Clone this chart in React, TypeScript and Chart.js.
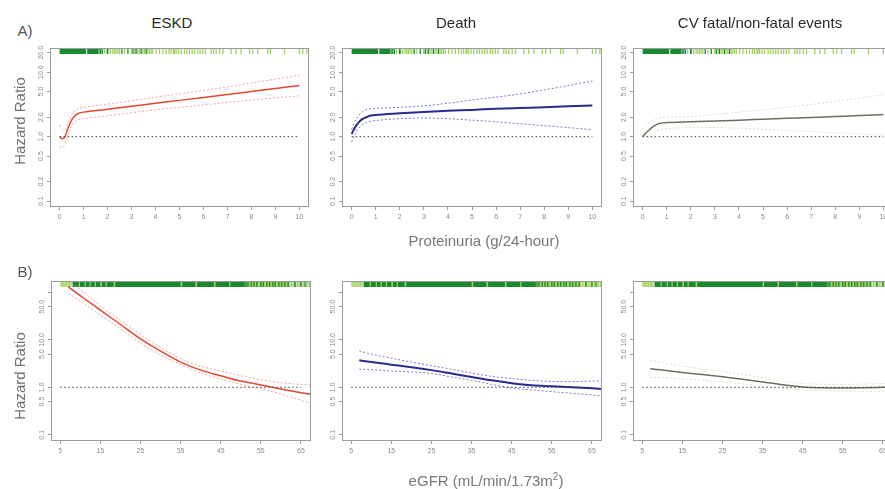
import React, { useEffect, useRef } from 'react';
import { Chart, registerables } from 'chart.js';

Chart.register(...registerables);

// ---------- Data ----------
// Panel A: proteinuria (g/24-hour)
const protX = [0, 0.1, 0.2, 0.3, 0.4, 0.5, 0.6, 0.7, 0.8, 1, 2, 3, 4, 5, 6, 7, 8, 9, 10];
const eskdProtHR = [1.0, 0.93, 0.96, 1.2, 1.5, 1.8, 2.05, 2.2, 2.3, 2.4, 2.65, 2.95, 3.3, 3.65, 4.05, 4.5, 5.0, 5.6, 6.2];
const eskdProtUp = [1.5, 1.3, 1.25, 1.45, 1.8, 2.15, 2.45, 2.65, 2.75, 2.85, 3.2, 3.6, 4.1, 4.6, 5.2, 5.9, 6.8, 7.8, 9.0];
const eskdProtLo = [0.7, 0.68, 0.74, 0.95, 1.2, 1.45, 1.65, 1.78, 1.85, 1.9, 2.1, 2.35, 2.6, 2.85, 3.1, 3.4, 3.7, 4.0, 4.3];
const deathProtHR = [1.1, 1.3, 1.5, 1.68, 1.82, 1.92, 2.0, 2.07, 2.12, 2.17, 2.3, 2.42, 2.52, 2.6, 2.7, 2.78, 2.86, 2.95, 3.05];
const deathProtUp = [1.3, 1.6, 1.9, 2.15, 2.35, 2.5, 2.6, 2.68, 2.72, 2.75, 2.85, 3.0, 3.3, 3.7, 4.1, 4.6, 5.3, 6.2, 7.3];
const deathProtLo = [0.82, 1.02, 1.2, 1.35, 1.47, 1.57, 1.64, 1.7, 1.74, 1.78, 1.9, 1.94, 1.9, 1.8, 1.7, 1.58, 1.48, 1.38, 1.28];
const cvProtHR = [1.0, 1.1, 1.2, 1.3, 1.4, 1.48, 1.55, 1.6, 1.62, 1.65, 1.7, 1.75, 1.8, 1.86, 1.92, 1.98, 2.05, 2.12, 2.2];
const cvProtUp = [1.3, 1.42, 1.55, 1.65, 1.75, 1.83, 1.9, 1.95, 1.98, 2.0, 2.05, 2.2, 2.4, 2.6, 2.85, 3.15, 3.5, 3.95, 4.5];
const cvProtLo = [0.76, 0.85, 0.95, 1.03, 1.1, 1.17, 1.22, 1.27, 1.3, 1.33, 1.38, 1.38, 1.35, 1.3, 1.25, 1.2, 1.15, 1.1, 1.05];
const protRef = [0, 10];

const protTicks = [0, 1, 2, 3, 4, 5, 6, 7, 8, 9, 10];
const protTickLabels = ['0', '1', '2', '3', '4', '5', '6', '7', '8', '9', '10'];
const protHrTicks = [0.1, 0.2, 0.5, 1, 2, 5, 10, 20];
const protHrLabels = ['0.1', '0.2', '0.5', '1.0', '2.0', '5.0', '10.0', '20.0'];

// rug (observed proteinuria values)
const rugProtBands: number[][] = [[0, 1.1], [1.15, 1.6]];
const rugProtDark = [1.64, 1.71, 1.78, 1.99, 2.01, 2.6, 2.85, 3.06, 3.19, 3.4, 3.61];
const rugProtLight = [1.87, 2.12, 2.22, 2.29, 2.36, 2.43, 2.5, 2.71, 2.99, 3.13, 3.26, 3.33, 3.47, 3.54, 3.68, 3.75, 3.82, 3.89, 4.03, 4.17, 4.31, 4.44, 4.56, 4.65, 4.75, 4.79, 4.86, 4.96, 5.07, 5.21, 5.31, 5.42, 5.53, 5.63, 5.76, 5.86, 5.97, 6.08, 6.32, 6.42, 6.53, 6.67, 6.81, 7.15, 7.36, 7.57, 7.92, 8.06, 8.26, 8.68, 8.79, 9.38, 10.0, 10.14, 10.31];

// Panel B: eGFR (mL/min/1.73m2)
const egfrX = [7, 10, 15, 20, 25, 30, 35, 40, 45, 50, 55, 60, 65, 67.5];
const eskdEgfrHR = [130, 85, 42, 21, 10.5, 5.8, 3.4, 2.3, 1.75, 1.35, 1.12, 0.92, 0.77, 0.71];
const eskdEgfrUp = [175, 115, 52, 26, 13, 7, 4.0, 2.8, 2.2, 1.75, 1.45, 1.25, 1.15, 1.12];
const eskdEgfrLo = [95, 65, 33, 17, 8.5, 4.8, 3.0, 2.0, 1.5, 1.15, 0.93, 0.72, 0.53, 0.46];
const deathEgfrHR = [3.7, 3.4, 3.0, 2.65, 2.3, 1.95, 1.65, 1.4, 1.22, 1.1, 1.05, 1.0, 0.95, 0.92];
const deathEgfrUp = [5.8, 5.0, 4.1, 3.4, 2.85, 2.4, 2.0, 1.7, 1.52, 1.4, 1.33, 1.32, 1.35, 1.36];
const deathEgfrLo = [2.4, 2.35, 2.2, 2.1, 1.95, 1.65, 1.4, 1.15, 0.97, 0.88, 0.81, 0.75, 0.69, 0.65];
const cvEgfrHR = [2.45, 2.3, 2.05, 1.85, 1.67, 1.48, 1.3, 1.13, 1.02, 0.98, 0.97, 0.98, 1.0, 1.01];
const cvEgfrUp = [3.7, 3.3, 2.8, 2.45, 2.15, 1.85, 1.6, 1.35, 1.2, 1.16, 1.15, 1.17, 1.2, 1.21];
const cvEgfrLo = [1.6, 1.6, 1.5, 1.42, 1.3, 1.18, 1.05, 0.95, 0.88, 0.85, 0.83, 0.82, 0.82, 0.82];
const egfrRef = [5, 65];

const egfrTicks = [5, 15, 25, 35, 45, 55, 65];
const egfrTickLabels = ['5', '15', '25', '35', '45', '55', '65'];
const egfrHrTicks = [0.1, 0.5, 1, 5, 10, 50, 100];
const egfrHrLabels = ['0.1', '0.5', '1.0', '5.0', '10.0', '50.0', ''];

const rugEgfrLightBands: number[][] = [[8.1, 62.3]];
const rugEgfrBands: number[][] = [[8.1, 9.6], [9.9, 11.1], [11.4, 12.3], [12.6, 13.6], [13.9, 15.0], [15.4, 16.3], [16.6, 18.3], [18.7, 35.0], [35.4, 38.7], [39.1, 43.3], [43.7, 47.1], [47.4, 51.0]];
const rugEgfrDark = [51.3, 51.8, 52.6, 53.3, 54.0, 55.0, 55.6, 56.5, 57.2, 58.0, 58.6, 59.5, 60.2, 61.0, 61.8, 63.5, 65.0, 66.0];
const rugEgfrLight = [5.2, 5.5, 5.9, 6.2, 6.6, 7.0, 7.3, 7.7, 62.6, 63.0, 63.4, 63.7, 64.1, 64.5, 64.8, 65.2, 65.6, 66.3, 66.7, 67.1];

// ---------- Styling / layout ----------
const FONT = "'Liberation Sans', Arial, Helvetica, sans-serif";
const ML = 44, MT = 6, MR = 6, MB = 30;
const RUG_DARK = '#178a30';
const RUG_LIGHT = '#a4d163';

type Rug = { lightBands: number[][]; darkBands: number[][]; dark: number[]; light: number[] };
type Panel = {
  left: number; top: number; width: number; height: number;
  xMin: number; xMax: number; yMin: number; yMax: number;
  xTicks: number[]; xLabels: string[]; yTicks: number[]; yLabels: string[];
  xs: number[]; main: number[]; up: number[]; lo: number[]; ref: number[];
  color: string; ciColor: string; mainWidth: number; rug: Rug;
};

const rugProt: Rug = { lightBands: [], darkBands: rugProtBands, dark: rugProtDark, light: rugProtLight };
const rugEgfr: Rug = { lightBands: rugEgfrLightBands, darkBands: rugEgfrBands, dark: rugEgfrDark, light: rugEgfrLight };

const protAxes = { xMin: -0.4, xMax: 10.4, yMin: 0.081, yMax: 23.7, xTicks: protTicks, xLabels: protTickLabels, yTicks: protHrTicks, yLabels: protHrLabels, xs: protX, ref: protRef, rug: rugProt };
const egfrAxes = { xMin: 2.7, xMax: 67.5, yMin: 0.074, yMax: 173, xTicks: egfrTicks, xLabels: egfrTickLabels, yTicks: egfrHrTicks, yLabels: egfrHrLabels, xs: egfrX, ref: egfrRef, rug: rugEgfr };

const RED = '#e2482f', RED_CI = '#f5a3a0';
const NAVY = '#2b2a8e', NAVY_CI = '#7b78d6';
const GREY = '#6f6d60', GREY_CI = '#dedcc4';

const panels: Panel[] = [
  { left: 50, top: 48, width: 259, height: 159, ...protAxes, main: eskdProtHR, up: eskdProtUp, lo: eskdProtLo, color: RED, ciColor: RED_CI, mainWidth: 1.5 },
  { left: 342, top: 48, width: 260, height: 159, ...protAxes, main: deathProtHR, up: deathProtUp, lo: deathProtLo, color: NAVY, ciColor: NAVY_CI, mainWidth: 2 },
  { left: 633, top: 48, width: 260, height: 159, ...protAxes, main: cvProtHR, up: cvProtUp, lo: cvProtLo, color: GREY, ciColor: GREY_CI, mainWidth: 1.5 },
  { left: 51, top: 281, width: 260, height: 160, ...egfrAxes, main: eskdEgfrHR, up: eskdEgfrUp, lo: eskdEgfrLo, color: RED, ciColor: RED_CI, mainWidth: 1.5 },
  { left: 342, top: 281, width: 260, height: 160, ...egfrAxes, main: deathEgfrHR, up: deathEgfrUp, lo: deathEgfrLo, color: NAVY, ciColor: NAVY_CI, mainWidth: 2 },
  { left: 633, top: 281, width: 260, height: 160, ...egfrAxes, main: cvEgfrHR, up: cvEgfrUp, lo: cvEgfrLo, color: GREY, ciColor: GREY_CI, mainWidth: 1.5 },
];

const pts = (xs: number[], ys: number[]) => xs.map((x, i) => ({ x, y: ys[i] }));

function PanelChart({ p }: { p: Panel }) {
  const ref = useRef<HTMLCanvasElement>(null);
  const W = p.width + ML + MR;
  const H = p.height + MT + MB;

  useEffect(() => {
    const boxPlugin = {
      id: 'box',
      afterDraw(chart: any) {
        const { ctx, chartArea: a } = chart;
        ctx.save();
        ctx.strokeStyle = '#9c9c9c';
        ctx.lineWidth = 1;
        ctx.strokeRect(a.left + 0.5, a.top + 0.5, a.right - a.left - 1, a.bottom - a.top - 1);
        ctx.restore();
      },
    };
    const rugPlugin = {
      id: 'rug',
      beforeDatasetsDraw(chart: any) {
        const { ctx, chartArea: a, scales } = chart;
        const xs = scales.x;
        const y0 = a.top + 1;
        const h = 5;
        ctx.save();
        ctx.beginPath();
        ctx.rect(a.left + 1, a.top, a.right - a.left - 2, a.bottom - a.top);
        ctx.clip();
        ctx.fillStyle = RUG_LIGHT;
        p.rug.lightBands.forEach(([s, e]) => {
          const x1 = xs.getPixelForValue(s), x2 = xs.getPixelForValue(e);
          ctx.fillRect(x1, y0, x2 - x1, h);
        });
        ctx.lineWidth = 1.3;
        ctx.strokeStyle = RUG_LIGHT;
        p.rug.light.forEach((v) => {
          const x = xs.getPixelForValue(v);
          ctx.beginPath(); ctx.moveTo(x, y0); ctx.lineTo(x, y0 + h); ctx.stroke();
        });
        ctx.fillStyle = RUG_DARK;
        p.rug.darkBands.forEach(([s, e]) => {
          const x1 = xs.getPixelForValue(s), x2 = xs.getPixelForValue(e);
          ctx.fillRect(x1, y0, x2 - x1, h);
        });
        ctx.strokeStyle = RUG_DARK;
        p.rug.dark.forEach((v) => {
          const x = xs.getPixelForValue(v);
          ctx.beginPath(); ctx.moveTo(x, y0); ctx.lineTo(x, y0 + h); ctx.stroke();
        });
        ctx.restore();
      },
    };

    const line = (data: any[], color: string, width: number, dash: number[]) => ({
      data, borderColor: color, borderWidth: width, borderDash: dash,
      pointRadius: 0, fill: false, tension: 0.4, cubicInterpolationMode: 'monotone' as const,
    });

    const chart = new Chart(ref.current as HTMLCanvasElement, {
      type: 'line',
      data: {
        datasets: [
          line(pts(p.ref, [1, 1]), '#444444', 1, [1.5, 2.5]),
          line(pts(p.xs, p.up), p.ciColor, 1, [2, 2]),
          line(pts(p.xs, p.lo), p.ciColor, 1, [2, 2]),
          line(pts(p.xs, p.main), p.color, p.mainWidth, []),
        ],
      },
      options: {
        responsive: false,
        animation: false,
        devicePixelRatio: 1,
        layout: { padding: { left: 0, top: MT, right: MR, bottom: 0 } },
        plugins: { legend: { display: false }, tooltip: { enabled: false }, title: { display: false } },
        scales: {
          x: {
            type: 'linear', min: p.xMin, max: p.xMax, bounds: 'data',
            afterBuildTicks: (s: any) => { s.ticks = p.xTicks.map((v) => ({ value: v })); },
            afterFit: (s: any) => { s.height = MB; },
            ticks: {
              autoSkip: false, maxRotation: 0, minRotation: 0, padding: 3,
              color: '#8a8a8a', font: { size: 7, family: FONT },
              callback: (_v: any, i: number) => p.xLabels[i],
            },
            grid: { display: true, drawOnChartArea: false, drawTicks: true, tickLength: 3, color: '#9c9c9c' },
            border: { display: false },
          },
          y: {
            type: 'logarithmic', min: p.yMin, max: p.yMax, bounds: 'data',
            afterBuildTicks: (s: any) => { s.ticks = p.yTicks.map((v) => ({ value: v })); },
            afterFit: (s: any) => { s.width = ML; },
            ticks: {
              autoSkip: false, minRotation: 90, maxRotation: 90, crossAlign: 'center', padding: -1,
              color: '#8a8a8a', font: { size: 7, family: FONT },
              callback: (_v: any, i: number) => p.yLabels[i],
            },
            grid: { display: true, drawOnChartArea: false, drawTicks: true, tickLength: 3, color: '#9c9c9c' },
            border: { display: false },
          },
        },
      } as any,
      plugins: [rugPlugin, boxPlugin],
    });
    return () => chart.destroy();
  }, []);

  return (
    <canvas
      ref={ref}
      width={W}
      height={H}
      style={{ position: 'absolute', left: p.left - ML, top: p.top - MT, width: W, height: H }}
    />
  );
}

const txt = (cx: number, cy: number, size: number, color: string, rotate = false): React.CSSProperties => ({
  position: 'absolute', left: cx, top: cy, fontSize: size, color, whiteSpace: 'nowrap', lineHeight: 1,
  transform: `translate(-50%, -50%)${rotate ? ' rotate(-90deg)' : ''}`, fontFamily: FONT,
});

export default function App() {
  return (
    <div style={{ position: 'fixed', left: 0, top: 0, width: 885, height: 489, overflow: 'hidden', background: '#ffffff', fontFamily: FONT }}>
      {panels.map((p, i) => <PanelChart key={i} p={p} />)}
      <div style={txt(172, 22, 15, '#2a2a2a')}>ESKD</div>
      <div style={txt(456, 22, 15, '#2a2a2a')}>Death</div>
      <div style={txt(760, 22, 15, '#2a2a2a')}>CV fatal/non-fatal events</div>
      <div style={txt(25, 30, 15, '#555555')}>A)</div>
      <div style={txt(25, 271, 15, '#555555')}>B)</div>
      <div style={txt(19, 121, 15, '#707070', true)}>Hazard Ratio</div>
      <div style={txt(19, 376, 15, '#707070', true)}>Hazard Ratio</div>
      <div style={txt(484, 240, 15, '#777777')}>Proteinuria (g/24-hour)</div>
      <div style={txt(486, 480, 15, '#777777')}>eGFR (mL/min/1.73m<sup style={{ fontSize: 10, verticalAlign: 'super', lineHeight: 0 }}>2</sup>)</div>
    </div>
  );
}
